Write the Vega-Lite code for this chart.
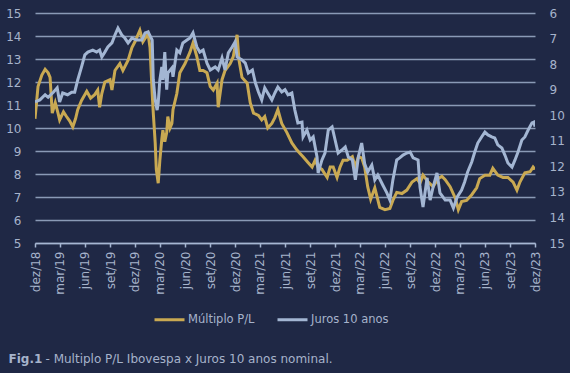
{
"$schema": "https://vega.github.io/schema/vega-lite/v6.json",
"width": 500, "height": 230,
"autosize": {"type": "none"},
"padding": {"left": 35, "top": 13, "right": 35, "bottom": 130},
"background": "#1f2845",
"config": {"view": {"stroke": null}, "font": "DejaVu Sans"},
"datasets": {
"pl": [
{"date":"2018-12-01","value":10.4},{"date":"2018-12-12","value":11.8},{"date":"2018-12-26","value":12.3},{"date":"2019-01-07","value":12.55},{"date":"2019-01-18","value":12.4},{"date":"2019-01-25","value":12.2},{"date":"2019-02-02","value":10.65},{"date":"2019-02-13","value":11.1},{"date":"2019-02-24","value":10.6},{"date":"2019-03-01","value":10.35},{"date":"2019-03-15","value":10.7},{"date":"2019-03-26","value":10.5},{"date":"2019-04-07","value":10.3},{"date":"2019-04-18","value":10.05},{"date":"2019-04-28","value":10.4},{"date":"2019-05-06","value":10.8},{"date":"2019-05-20","value":11.2},{"date":"2019-06-08","value":11.6},{"date":"2019-06-22","value":11.3},{"date":"2019-07-07","value":11.45},{"date":"2019-07-18","value":11.65},{"date":"2019-07-25","value":10.9},{"date":"2019-08-02","value":11.5},{"date":"2019-08-13","value":12.0},{"date":"2019-09-01","value":12.1},{"date":"2019-09-08","value":11.65},{"date":"2019-09-19","value":12.5},{"date":"2019-10-07","value":12.8},{"date":"2019-10-18","value":12.5},{"date":"2019-11-06","value":12.95},{"date":"2019-11-20","value":13.5},{"date":"2019-12-01","value":13.75},{"date":"2019-12-19","value":14.25},{"date":"2019-12-30","value":13.75},{"date":"2020-01-18","value":14.1},{"date":"2020-01-25","value":13.5},{"date":"2020-02-02","value":11.5},{"date":"2020-02-06","value":10.65},{"date":"2020-02-13","value":9.35},{"date":"2020-02-17","value":8.2},{"date":"2020-02-24","value":7.6},{"date":"2020-03-01","value":8.6},{"date":"2020-03-08","value":9.5},{"date":"2020-03-12","value":9.9},{"date":"2020-03-19","value":9.4},{"date":"2020-03-26","value":9.8},{"date":"2020-03-30","value":10.5},{"date":"2020-04-07","value":10.0},{"date":"2020-04-14","value":10.2},{"date":"2020-04-18","value":10.8},{"date":"2020-05-02","value":11.5},{"date":"2020-05-13","value":12.4},{"date":"2020-06-01","value":12.8},{"date":"2020-06-19","value":13.3},{"date":"2020-06-30","value":13.7},{"date":"2020-07-14","value":13.1},{"date":"2020-07-25","value":12.5},{"date":"2020-08-06","value":12.5},{"date":"2020-08-20","value":12.4},{"date":"2020-09-01","value":11.8},{"date":"2020-09-12","value":11.65},{"date":"2020-09-26","value":11.95},{"date":"2020-09-30","value":10.9},{"date":"2020-10-14","value":12.1},{"date":"2020-10-25","value":12.5},{"date":"2020-11-13","value":12.8},{"date":"2020-11-24","value":13.1},{"date":"2020-12-08","value":14.05},{"date":"2020-12-15","value":12.95},{"date":"2020-12-26","value":12.2},{"date":"2021-01-14","value":11.95},{"date":"2021-01-25","value":11.1},{"date":"2021-02-06","value":10.65},{"date":"2021-02-24","value":10.55},{"date":"2021-03-08","value":10.35},{"date":"2021-03-19","value":10.5},{"date":"2021-03-30","value":10.0},{"date":"2021-04-14","value":10.2},{"date":"2021-04-25","value":10.45},{"date":"2021-05-06","value":10.8},{"date":"2021-05-20","value":10.2},{"date":"2021-06-08","value":9.8},{"date":"2021-06-26","value":9.35},{"date":"2021-07-14","value":9.05},{"date":"2021-07-25","value":8.9},{"date":"2021-08-06","value":8.75},{"date":"2021-08-24","value":8.5},{"date":"2021-09-08","value":8.3},{"date":"2021-09-19","value":8.6},{"date":"2021-09-30","value":8.3},{"date":"2021-10-14","value":8.2},{"date":"2021-11-02","value":7.85},{"date":"2021-11-13","value":8.3},{"date":"2021-11-24","value":8.3},{"date":"2021-12-08","value":7.85},{"date":"2021-12-19","value":8.3},{"date":"2021-12-30","value":8.6},{"date":"2022-01-14","value":8.6},{"date":"2022-02-02","value":8.75},{"date":"2022-02-13","value":8.3},{"date":"2022-02-24","value":8.75},{"date":"2022-03-08","value":8.7},{"date":"2022-03-19","value":8.3},{"date":"2022-03-30","value":7.45},{"date":"2022-04-10","value":6.9},{"date":"2022-04-25","value":7.4},{"date":"2022-05-13","value":6.55},{"date":"2022-06-01","value":6.45},{"date":"2022-06-19","value":6.5},{"date":"2022-06-30","value":6.85},{"date":"2022-07-14","value":7.2},{"date":"2022-08-02","value":7.15},{"date":"2022-08-20","value":7.3},{"date":"2022-09-08","value":7.65},{"date":"2022-09-26","value":7.8},{"date":"2022-10-07","value":7.6},{"date":"2022-10-18","value":7.95},{"date":"2022-11-06","value":7.65},{"date":"2022-11-24","value":7.45},{"date":"2022-12-12","value":7.8},{"date":"2022-12-26","value":7.9},{"date":"2023-01-07","value":7.75},{"date":"2023-01-25","value":7.45},{"date":"2023-02-13","value":6.95},{"date":"2023-02-24","value":6.45},{"date":"2023-03-08","value":6.8},{"date":"2023-03-26","value":6.85},{"date":"2023-04-14","value":7.1},{"date":"2023-05-02","value":7.4},{"date":"2023-05-13","value":7.8},{"date":"2023-06-01","value":7.95},{"date":"2023-06-19","value":7.95},{"date":"2023-06-30","value":8.25},{"date":"2023-07-18","value":7.95},{"date":"2023-08-06","value":7.85},{"date":"2023-08-24","value":7.85},{"date":"2023-09-12","value":7.65},{"date":"2023-09-26","value":7.3},{"date":"2023-10-07","value":7.65},{"date":"2023-10-25","value":8.05},{"date":"2023-11-13","value":8.1},{"date":"2023-11-24","value":8.3},{"date":"2023-12-01","value":8.2}
],
"juros": [
{"date":"2018-12-01","value":9.48},{"date":"2018-12-19","value":9.4},{"date":"2019-01-07","value":9.2},{"date":"2019-01-18","value":9.3},{"date":"2019-02-06","value":9.1},{"date":"2019-02-20","value":8.93},{"date":"2019-03-01","value":9.48},{"date":"2019-03-12","value":9.13},{"date":"2019-03-30","value":9.2},{"date":"2019-04-14","value":9.1},{"date":"2019-04-25","value":9.1},{"date":"2019-05-06","value":8.62},{"date":"2019-05-20","value":8.11},{"date":"2019-06-01","value":7.64},{"date":"2019-06-12","value":7.53},{"date":"2019-06-30","value":7.45},{"date":"2019-07-14","value":7.53},{"date":"2019-07-25","value":7.45},{"date":"2019-08-02","value":7.72},{"date":"2019-08-13","value":7.53},{"date":"2019-08-24","value":7.33},{"date":"2019-09-08","value":7.17},{"date":"2019-09-19","value":6.86},{"date":"2019-09-30","value":6.59},{"date":"2019-10-14","value":6.86},{"date":"2019-10-25","value":6.98},{"date":"2019-11-06","value":7.17},{"date":"2019-11-20","value":6.98},{"date":"2019-12-08","value":7.06},{"date":"2019-12-26","value":7.06},{"date":"2020-01-07","value":6.78},{"date":"2020-01-18","value":6.74},{"date":"2020-02-02","value":7.06},{"date":"2020-02-06","value":8.62},{"date":"2020-02-13","value":9.4},{"date":"2020-02-20","value":9.8},{"date":"2020-02-24","value":9.52},{"date":"2020-03-01","value":8.62},{"date":"2020-03-08","value":8.11},{"date":"2020-03-12","value":8.62},{"date":"2020-03-19","value":7.53},{"date":"2020-03-26","value":9.0},{"date":"2020-03-30","value":8.35},{"date":"2020-04-14","value":8.15},{"date":"2020-04-18","value":8.5},{"date":"2020-05-02","value":7.45},{"date":"2020-05-13","value":7.56},{"date":"2020-05-24","value":7.17},{"date":"2020-06-08","value":7.06},{"date":"2020-06-19","value":6.98},{"date":"2020-06-30","value":6.78},{"date":"2020-07-14","value":7.33},{"date":"2020-07-25","value":7.53},{"date":"2020-08-06","value":7.45},{"date":"2020-08-20","value":7.96},{"date":"2020-09-01","value":8.23},{"date":"2020-09-19","value":8.11},{"date":"2020-09-30","value":8.23},{"date":"2020-10-14","value":7.76},{"date":"2020-10-25","value":8.23},{"date":"2020-11-06","value":7.56},{"date":"2020-11-20","value":7.33},{"date":"2020-12-01","value":7.13},{"date":"2020-12-08","value":7.72},{"date":"2020-12-26","value":7.84},{"date":"2021-01-07","value":7.96},{"date":"2021-01-18","value":8.35},{"date":"2021-02-02","value":8.23},{"date":"2021-02-13","value":8.74},{"date":"2021-02-24","value":9.09},{"date":"2021-03-08","value":9.4},{"date":"2021-03-19","value":8.93},{"date":"2021-03-30","value":9.13},{"date":"2021-04-14","value":9.4},{"date":"2021-04-25","value":9.13},{"date":"2021-05-06","value":8.9},{"date":"2021-05-20","value":9.09},{"date":"2021-06-01","value":9.0},{"date":"2021-06-12","value":9.2},{"date":"2021-06-26","value":9.13},{"date":"2021-07-07","value":9.8},{"date":"2021-07-18","value":10.3},{"date":"2021-08-02","value":10.27},{"date":"2021-08-06","value":10.85},{"date":"2021-08-20","value":10.58},{"date":"2021-09-01","value":10.97},{"date":"2021-09-12","value":10.85},{"date":"2021-09-26","value":11.63},{"date":"2021-09-30","value":12.26},{"date":"2021-10-14","value":11.75},{"date":"2021-10-25","value":11.48},{"date":"2021-11-06","value":10.58},{"date":"2021-11-20","value":10.46},{"date":"2021-12-01","value":10.97},{"date":"2021-12-12","value":11.48},{"date":"2021-12-26","value":11.36},{"date":"2022-01-07","value":11.24},{"date":"2022-01-18","value":11.63},{"date":"2022-02-02","value":11.75},{"date":"2022-02-13","value":12.53},{"date":"2022-02-24","value":11.63},{"date":"2022-03-08","value":11.09},{"date":"2022-03-19","value":11.9},{"date":"2022-03-30","value":12.22},{"date":"2022-04-14","value":11.95},{"date":"2022-04-25","value":12.53},{"date":"2022-05-06","value":12.34},{"date":"2022-05-24","value":12.73},{"date":"2022-06-08","value":13.04},{"date":"2022-06-19","value":13.32},{"date":"2022-06-30","value":12.53},{"date":"2022-07-14","value":11.75},{"date":"2022-07-25","value":11.67},{"date":"2022-08-06","value":11.56},{"date":"2022-08-20","value":11.48},{"date":"2022-09-01","value":11.44},{"date":"2022-09-12","value":11.67},{"date":"2022-09-30","value":11.75},{"date":"2022-10-07","value":12.81},{"date":"2022-10-18","value":13.59},{"date":"2022-11-02","value":12.45},{"date":"2022-11-13","value":13.32},{"date":"2022-11-24","value":12.81},{"date":"2022-12-08","value":12.26},{"date":"2022-12-19","value":13.04},{"date":"2023-01-07","value":13.32},{"date":"2023-01-25","value":13.32},{"date":"2023-02-06","value":13.63},{"date":"2023-02-20","value":13.2},{"date":"2023-03-08","value":12.93},{"date":"2023-03-19","value":12.61},{"date":"2023-03-30","value":12.22},{"date":"2023-04-14","value":11.83},{"date":"2023-04-25","value":11.44},{"date":"2023-05-06","value":11.09},{"date":"2023-05-20","value":10.85},{"date":"2023-06-01","value":10.66},{"date":"2023-06-12","value":10.77},{"date":"2023-06-26","value":10.85},{"date":"2023-07-07","value":10.89},{"date":"2023-07-18","value":11.16},{"date":"2023-08-02","value":11.28},{"date":"2023-08-13","value":11.56},{"date":"2023-08-24","value":11.87},{"date":"2023-09-08","value":12.03},{"date":"2023-09-19","value":11.75},{"date":"2023-09-30","value":11.44},{"date":"2023-10-14","value":10.97},{"date":"2023-10-25","value":10.85},{"date":"2023-11-06","value":10.58},{"date":"2023-11-20","value":10.3},{"date":"2023-11-27","value":10.27},{"date":"2023-12-01","value":10.45}
]
},
"encoding": {
"x": {"field": "date", "type": "temporal",
 "scale": {"type": "utc", "domain": [{"year": 2018, "month": 12, "date": 1, "utc": true}, {"year": 2023, "month": 12, "date": 1, "utc": true}]},
 "axis": {"values": [
  {"year":2018,"month":12,"date":1,"utc":true},{"year":2019,"month":3,"date":1,"utc":true},{"year":2019,"month":6,"date":1,"utc":true},{"year":2019,"month":9,"date":1,"utc":true},
  {"year":2019,"month":12,"date":1,"utc":true},{"year":2020,"month":3,"date":1,"utc":true},{"year":2020,"month":6,"date":1,"utc":true},{"year":2020,"month":9,"date":1,"utc":true},
  {"year":2020,"month":12,"date":1,"utc":true},{"year":2021,"month":3,"date":1,"utc":true},{"year":2021,"month":6,"date":1,"utc":true},{"year":2021,"month":9,"date":1,"utc":true},
  {"year":2021,"month":12,"date":1,"utc":true},{"year":2022,"month":3,"date":1,"utc":true},{"year":2022,"month":6,"date":1,"utc":true},{"year":2022,"month":9,"date":1,"utc":true},
  {"year":2022,"month":12,"date":1,"utc":true},{"year":2023,"month":3,"date":1,"utc":true},{"year":2023,"month":6,"date":1,"utc":true},{"year":2023,"month":9,"date":1,"utc":true},
  {"year":2023,"month":12,"date":1,"utc":true}],
  "labelExpr": "['jan','fev','mar','abr','mai','jun','jul','ago','set','out','nov','dez'][utcmonth(datum.value)] + '/' + utcFormat(datum.value, '%y')",
  "labelAngle": -90, "labelFontSize": 12, "labelColor": "#a6b3cb", "labelPadding": 4, "labelFlush": false, "labelOverlap": false, "labelBound": false,
  "grid": false, "domainColor": "#a6b6d2", "domainWidth": 1.5, "tickColor": "#a6b6d2", "tickSize": 4, "tickWidth": 1.5,
  "title": "- Multiplo P/L Ibovespa x Juros 10 anos nominal.", "titleX": 10, "titleY": 119, "titleAlign": "left", "titleBaseline": "alphabetic",
  "titleFontWeight": "normal", "titleFontSize": 12, "titleColor": "#a6b3cb", "titleAngle": 0}}
},
"layer": [
{
"data": {"name": "pl"},
"mark": {"type": "line", "strokeWidth": 3, "clip": true},
"encoding": {
"y": {"field": "value", "type": "quantitative",
 "scale": {"domain": [5, 15], "nice": false, "zero": false},
 "axis": {"orient": "left", "values": [5,6,7,8,9,10,11,12,13,14,15], "domain": false, "ticks": false, "tickSize": 0,
  "labelPadding": 14, "labelFontSize": 12, "labelColor": "#a6b3cb",
  "grid": true, "gridColor": "#8a9ab6", "gridWidth": 1.5,
  "title": "Fig.1", "titleAngle": 0, "titleX": -27, "titleY": 349, "titleAlign": "left", "titleBaseline": "alphabetic",
  "titleFontWeight": "bold", "titleFontSize": 12, "titleColor": "#a6b3cb"}},
"color": {"datum": "Múltiplo P/L", "type": "nominal",
 "scale": {"domain": ["Múltiplo P/L", "Juros 10 anos"], "range": ["#c9a952", "#a3b6d3"]},
 "legend": {"orient": "none", "legendX": 118, "legendY": 290, "direction": "horizontal", "title": null,
  "symbolType": "stroke", "symbolSize": 900, "symbolStrokeWidth": 3, "labelFontSize": 11.5, "labelColor": "#a6b3cb",
  "labelOffset": 2, "columnPadding": 16, "padding": 0}}
}
},
{
"data": {"name": "juros"},
"mark": {"type": "line", "strokeWidth": 3, "clip": true},
"encoding": {
"y": {"field": "value", "type": "quantitative",
 "scale": {"domain": [6, 15], "nice": false, "zero": false, "reverse": true},
 "axis": {"orient": "right", "values": [6,7,8,9,10,11,12,13,14,15], "domain": false, "ticks": false, "tickSize": 0,
  "labelPadding": 14, "labelFontSize": 12, "labelColor": "#a6b3cb", "grid": false, "title": null}},
"color": {"datum": "Juros 10 anos", "type": "nominal"}
}
}
],
"resolve": {"scale": {"y": "independent"}}
}
